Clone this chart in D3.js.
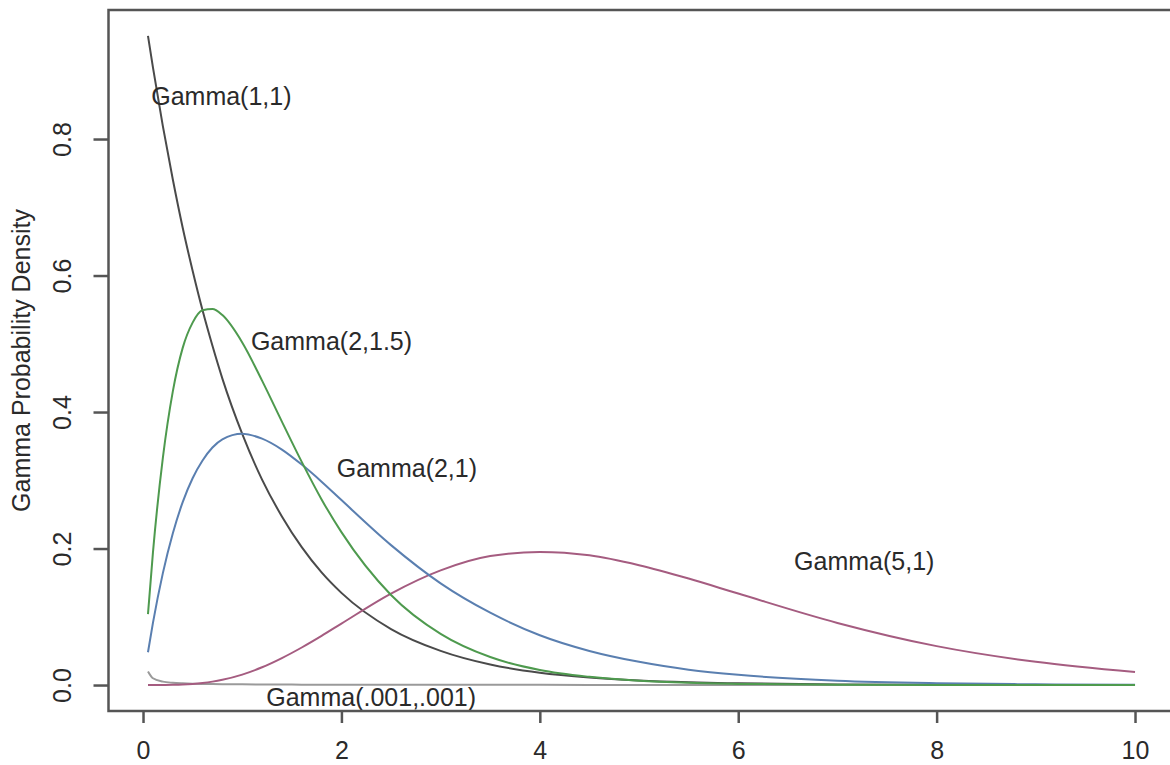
<!DOCTYPE html>
<html>
<head>
<meta charset="utf-8">
<script src="https://cdn.jsdelivr.net/npm/d3@7"></script>
<style>
  body { margin: 0; background: #fff; }
  text { font-family: "Liberation Sans", Arial, sans-serif; }
</style>
</head>
<body>
<div id="container"></div>
<script>
/* CONSTANTS AND GLOBALS */
const width = 1170,
      height = 765;

/* DATA */
const xs       = [0.05, 0.1, 0.2, 0.3, 0.4, 0.5, 0.6, 0.7, 0.8, 1.0, 1.2, 1.4, 1.6, 1.8, 2.0, 2.5, 3, 3.5, 4, 4.5, 5, 5.5, 6, 7, 8, 9, 10];
const gamma11  = [0.951, 0.905, 0.819, 0.741, 0.670, 0.607, 0.549, 0.497, 0.449, 0.368, 0.301, 0.247, 0.202, 0.165, 0.135, 0.082, 0.050, 0.030, 0.018, 0.011, 0.0067, 0.0041, 0.0025, 0.0009, 0.0003, 0.0001, 0.00005];
const gamma215 = [0.104, 0.194, 0.333, 0.430, 0.494, 0.531, 0.549, 0.551, 0.542, 0.502, 0.446, 0.386, 0.327, 0.272, 0.224, 0.132, 0.075, 0.041, 0.022, 0.012, 0.0062, 0.0032, 0.0017, 0.0004, 0.0001, 0.00003, 0.00001];
const gamma21  = [0.048, 0.091, 0.164, 0.222, 0.268, 0.303, 0.329, 0.348, 0.360, 0.368, 0.361, 0.345, 0.323, 0.298, 0.271, 0.205, 0.149, 0.106, 0.073, 0.050, 0.034, 0.0225, 0.0149, 0.0064, 0.0027, 0.0011, 0.00045];
const gamma51  = [0.0000002, 0.000004, 0.00005, 0.00025, 0.0007, 0.0016, 0.003, 0.005, 0.0077, 0.0153, 0.026, 0.0395, 0.055, 0.072, 0.090, 0.134, 0.168, 0.189, 0.195, 0.190, 0.1755, 0.156, 0.134, 0.091, 0.057, 0.034, 0.019];
const gamma001 = [0.0199, 0.0099, 0.0050, 0.0033, 0.0025, 0.0020, 0.0017, 0.0014, 0.0012, 0.0010, 0.0008, 0.0007, 0.0006, 0.00055, 0.0005, 0.0004, 0.00033, 0.00028, 0.00025, 0.00022, 0.0002, 0.00018, 0.00017, 0.00014, 0.00012, 0.00011, 0.0001];

const xTicks = [0, 2, 4, 6, 8, 10];
const yTicks = [0, 0.2, 0.4, 0.6, 0.8];

const series = [
  {name: "Gamma(1,1)",       values: gamma11,  color: "#4a4a4a", lx: 0.79, ly: 0.862},
  {name: "Gamma(.001,.001)", values: gamma001, color: "#9a9a9a", lx: 2.3,  ly: -0.018},
  {name: "Gamma(5,1)",       values: gamma51,  color: "#a55c80", lx: 7.27, ly: 0.181},
  {name: "Gamma(2,1)",       values: gamma21,  color: "#5a7fb0", lx: 2.66, ly: 0.318},
  {name: "Gamma(2,1.5)",     values: gamma215, color: "#4e9a4e", lx: 1.9,  ly: 0.503}
];

// SCALES (R style 4% padding on the data range)
const xExt = [0.05, 10], yExt = [0, 0.951];
const xPad = (xExt[1] - xExt[0]) * 0.04, yPad = (yExt[1] - yExt[0]) * 0.04;

const xScale = d3.scaleLinear()
                 .domain([xExt[0] - xPad, xExt[1] + xPad])
                 .range([108.5, 1174.5]);

const yScale = d3.scaleLinear()
                 .domain([yExt[0] - yPad, yExt[1] + yPad])
                 .range([711, 10]);

// CREATE SVG ELEMENT
const svg = d3.select("#container")
              .append("svg")
              .attr("width", width)
              .attr("height", height);

// LINE GENERATOR FUNCTION
const lineGen = d3.line()
                  .x((d, i) => xScale(xs[i]))
                  .y(d => yScale(d))
                  .curve(d3.curveMonotoneX);

// DRAW LINES
svg.selectAll("path.line")
   .data(series)
   .join("path")
   .attr("class", "line")
   .attr("fill", "none")
   .attr("stroke", d => d.color)
   .attr("stroke-width", 2)
   .attr("d", d => lineGen(d.values));

// CURVE LABELS
svg.selectAll("text.lab")
   .data(series)
   .join("text")
   .attr("class", "lab")
   .attr("x", d => xScale(d.lx))
   .attr("y", d => yScale(d.ly))
   .attr("dy", "0.35em")
   .attr("text-anchor", "middle")
   .attr("font-size", 25)
   .attr("fill", "#2a2a2a")
   .text(d => d.name);

// BOX
const [x0, x1] = xScale.range(), [y0, y1] = yScale.range();
svg.append("rect")
   .attr("x", x0).attr("y", y1)
   .attr("width", x1 - x0).attr("height", y0 - y1)
   .attr("fill", "none")
   .attr("stroke", "#555")
   .attr("stroke-width", 2.5);

// BUILD AND CALL AXES
const xAxis = d3.axisBottom(xScale).tickValues(xTicks).tickSize(12).tickPadding(18).tickFormat(d3.format("d"));
const yAxis = d3.axisLeft(yScale).tickValues(yTicks).tickSize(15).tickPadding(14).tickFormat(d3.format(".1f"));

const gx = svg.append("g")
   .attr("transform", `translate(0,${y0})`)
   .call(xAxis);

const gy = svg.append("g")
   .attr("transform", `translate(${x0},0)`)
   .call(yAxis);

[gx, gy].forEach(g => {
  g.select(".domain").remove();
  g.selectAll(".tick line").attr("stroke", "#555").attr("stroke-width", 2.5);
  g.selectAll(".tick text").attr("font-size", 25).attr("fill", "#2a2a2a")
   .attr("font-family", "'Liberation Sans', Arial, sans-serif");
});

// rotate y tick labels like R (las = 0)
gy.selectAll(".tick text")
  .attr("transform", "rotate(-90)")
  .attr("x", 0)
  .attr("y", -38)
  .attr("dy", 0)
  .attr("text-anchor", "middle");

// Y AXIS TITLE
svg.append("text")
   .attr("transform", `translate(30,${(y0 + y1) / 2}) rotate(-90)`)
   .attr("text-anchor", "middle")
   .attr("font-size", 25)
   .attr("fill", "#2a2a2a")
   .text("Gamma Probability Density");
</script>
</body>
</html>
